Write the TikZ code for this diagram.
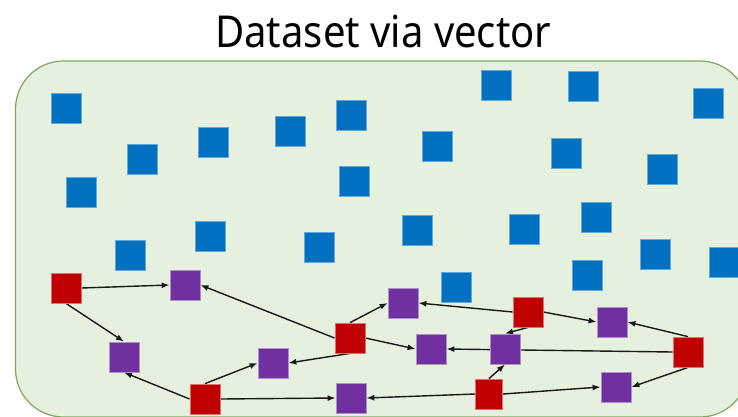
\documentclass[tikz,border=0pt]{standalone}
\usepackage{graphicx}
\usepackage{fontspec}
\setmainfont{Noto Sans}
\usetikzlibrary{arrows.meta}
\definecolor{bgfill}{HTML}{E6F0DF}
\definecolor{bgline}{HTML}{7FA561}
\definecolor{sqblue}{HTML}{0070C0}
\definecolor{sqred}{HTML}{C00000}
\definecolor{sqpurple}{HTML}{7030A0}
\pgfdeclarelayer{back}
\pgfdeclarelayer{mid}
\pgfsetlayers{back,mid,main}
\tikzset{
  sq/.style={rectangle, minimum width=30pt, minimum height=30pt, inner sep=0pt, line width=0.8pt},
  bsq/.style={sq, fill=sqblue, draw=sqblue!60!white},
  rsq/.style={sq, fill=sqred, draw=sqred!55!white},
  psq/.style={sq, fill=sqpurple, draw=sqpurple!55!white},
  arr/.style={draw=black!90, line width=1.4pt, -{Latex[length=8pt,width=6pt]}},
  title/.style={font=\fontsize{44}{50}\selectfont, anchor=base, inner sep=0pt}
}
\begin{document}
\begin{tikzpicture}[x=1pt,y=-1pt]
\useasboundingbox (0,0) rectangle (738,416);
\clip (0,0) rectangle (738,416);
\begin{pgfonlayer}{back}
\draw[fill=bgfill, draw=bgline, line width=1.2pt, rounded corners=48pt] (15.5,61) rectangle (748,417);
\end{pgfonlayer}
\node[title] (t) at (383.3,47.3) {\scalebox{0.91}[1]{Dataset via vector}};
% blue squares
\node[bsq] (b1) at (66.7,108.3) {};
\node[bsq] (b2) at (142,159.7) {};
\node[bsq] (b3) at (213,142.3) {};
\node[bsq] (b4) at (290,131.7) {};
\node[bsq] (b5) at (351.3,115.3) {};
\node[bsq] (b6) at (81.7,192.3) {};
\node[bsq] (b7) at (354,181) {};
\node[bsq] (b8) at (210,236.7) {};
\node[bsq] (b9) at (130,255) {};
\node[bsq] (b10) at (319.7,247.7) {};
\node[bsq] (b11) at (496,85) {};
\node[bsq] (b12) at (583,86.7) {};
\node[bsq] (b13) at (708,103) {};
\node[bsq] (b14) at (437.7,146.7) {};
\node[bsq] (b15) at (566.3,153.3) {};
\node[bsq] (b16) at (662.3,169.7) {};
\node[bsq] (b17) at (417.7,230.3) {};
\node[bsq] (b18) at (524,229.3) {};
\node[bsq] (b19) at (596,217.7) {};
\node[bsq] (b20) at (655,254.3) {};
\node[bsq] (b21) at (724.3,262.7) {};
\node[bsq] (b22) at (587,275.7) {};
\node[bsq] (b23) at (456,287) {};
% red squares
\node[rsq] (r1) at (66,288) {};
\node[rsq] (r2) at (350,338) {};
\node[rsq] (r3) at (205,399) {};
\node[rsq] (r4) at (528,312) {};
\node[rsq] (r5) at (688,352) {};
\node[rsq, minimum width=27pt] (r6) at (489,394) {};
% purple squares
\node[psq] (p1) at (185,285) {};
\node[psq] (p2) at (124,357) {};
\node[psq] (p3) at (273,363) {};
\node[psq] (p4) at (351,398) {};
\node[psq] (p5) at (403,303) {};
\node[psq] (p6) at (612,322) {};
\node[psq] (p7) at (431,349) {};
\node[psq] (p8) at (505,349) {};
\node[psq] (p9) at (616,387) {};
\begin{pgfonlayer}{mid}
\draw[arr] (r1.east) -- (p1.west);
\draw[arr] (r1.south) -- (p2.north);
\draw[arr] (r2.west) -- (p1.east);
\draw[arr] (r2.south) -- (p3.east);
\draw[arr] (r2.north) -- (p5.west);
\draw[arr] (r2.east) -- (p7.west);
\draw[arr] (r3.west) -- (p2.south);
\draw[arr] (r3.north) -- (p3.west);
\draw[arr] (r3.east) -- (p4.west);
\draw[arr] (r4.west) -- (p5.east);
\draw[arr] (r4.east) -- (p6.west);
\draw[arr] (r4.south) -- (p8.north);
\draw[arr] (r5.west) -- (p7.east);
\draw[arr] (r5.north) -- (p6.east);
\draw[arr] (r5.south) -- (p9.east);
\draw[arr] (r6.north) -- (p8.south);
\draw[arr] (r6.east) -- (p9.west);
\draw[arr] (r6.west) -- (p4.east);
\end{pgfonlayer}
\end{tikzpicture}
\end{document}
